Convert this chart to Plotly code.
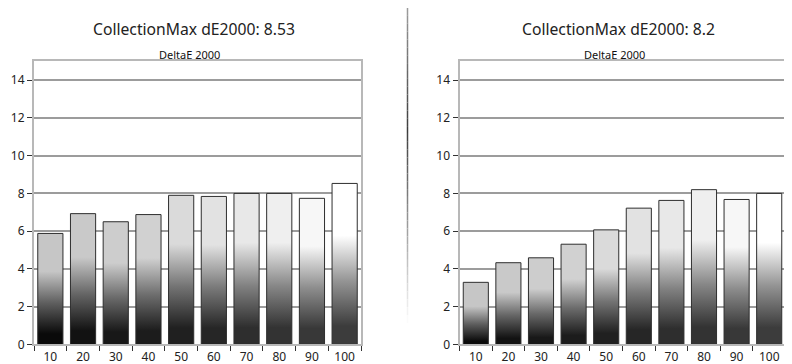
import plotly.graph_objects as go

# ---------------- data ----------------
categories = ["10", "20", "30", "40", "50", "60", "70", "80", "90", "100"]
left_values = [5.88, 6.93, 6.50, 6.88, 7.90, 7.84, 8.00, 8.00, 7.74, 8.53]
right_values = [3.29, 4.33, 4.59, 5.31, 6.07, 7.22, 7.63, 8.20, 7.68, 8.00]
left_title = "CollectionMax dE2000: 8.53"
right_title = "CollectionMax dE2000: 8.2"
subtitle = "DeltaE 2000"
y_ticks = [0, 2, 4, 6, 8, 10, 12, 14]

# ---------------- styles ----------------
top_grays = [198, 201, 205, 209, 218, 226, 232, 239, 247, 255]
bottom_grays = [10, 18, 24, 28, 32, 38, 46, 51, 56, 60]
BAR_W = 0.77
W, H = 792, 364
FONT = "Noto Sans"


def g(v):
    return f"rgb({v},{v},{v})"


fig = go.Figure()

panels = [
    (left_values, "x", "y"),
    (right_values, "x2", "y2"),
]
for vals, xa, ya in panels:
    for i, v in enumerate(vals):
        c = i + 1
        top = top_grays[i]
        bot = bottom_grays[i]
        mid = int(bot + (top - bot) * 0.45)
        fig.add_trace(go.Scatter(
            x=[c - BAR_W / 2, c - BAR_W / 2, c + BAR_W / 2, c + BAR_W / 2, c - BAR_W / 2],
            y=[0, v, v, 0, 0],
            xaxis=xa, yaxis=ya,
            mode="lines", fill="toself",
            line=dict(color="#2e2e2e", width=1),
            fillgradient=dict(
                type="vertical", start=0, stop=v,
                colorscale=[[0, g(bot)], [0.15, g(bot)], [0.42, g(mid)],
                            [0.70, g(top)], [1, g(top)]],
            ),
            showlegend=False, hoverinfo="skip",
        ))

ydom = [1 - 344 / H, 1 - 54.5 / H]
x_domains = [[26 / W, 353 / W], [451.5 / W, 777.5 / W]]


def xaxis_cfg(dom, anchor):
    return dict(
        domain=dom, anchor=anchor, range=[0.5, 10.5],
        tickmode="array", tickvals=list(range(1, 11)), ticktext=categories,
        ticks="", showgrid=False, zeroline=False,
        showline=True, linecolor="#b8b8b8", linewidth=2, mirror=True,
        minor=dict(tickmode="array", tickvals=[k + 0.5 for k in range(0, 11)],
                   ticks="outside", ticklen=5, tickcolor="#333", tickwidth=1,
                   showgrid=False),
        tickfont=dict(family=FONT, size=12, color="#222"),
        fixedrange=True,
    )


def yaxis_cfg(anchor):
    return dict(
        domain=ydom, anchor=anchor, range=[0, 15],
        tickmode="array", tickvals=y_ticks,
        ticks="outside", ticklen=5, tickcolor="#333", tickwidth=1,
        showgrid=True, gridcolor="#9c9c9c", gridwidth=1.5,
        zeroline=False,
        showline=True, linecolor="#b8b8b8", linewidth=2, mirror=True,
        tickfont=dict(family=FONT, size=12, color="#222"),
        fixedrange=True,
    )


annotations = []
for (title, tx, sx) in [(left_title, 186, 181), (right_title, 610.5, 606)]:
    annotations.append(dict(text=title, x=tx / W, y=1 - 21 / H, xref="paper", yref="paper",
                            xanchor="center", yanchor="middle", showarrow=False,
                            font=dict(family=FONT, size=15.7, color="#222")))
    annotations.append(dict(text=subtitle, x=sx / W, y=1 - 47.5 / H, xref="paper", yref="paper",
                            xanchor="center", yanchor="middle", showarrow=False,
                            font=dict(family=FONT, size=11, color="#111")))

# separator line with fading ends
shapes = []
n_seg = 40
y0p, y1p, peak = 0.0, 322.0, 125.0
for k in range(n_seg):
    a = y0p + (y1p - y0p) * k / n_seg
    b = y0p + (y1p - y0p) * (k + 1) / n_seg
    m = (a + b) / 2
    if m <= peak:
        f = 0.5 + 0.5 * (m / peak)
    else:
        f = 1 - (m - peak) / (y1p - peak)
    f = max(0.0, min(1.0, f))
    gv = int(255 - (255 - 60) * f)
    shapes.append(dict(type="line", xref="paper", yref="paper",
                       x0=399.5 / W, x1=399.5 / W, y0=1 - a / H, y1=1 - b / H,
                       line=dict(color=g(gv), width=1.5)))

fig.update_layout(
    width=W, height=H,
    margin=dict(l=0, r=0, t=0, b=0),
    paper_bgcolor="white", plot_bgcolor="white",
    xaxis=xaxis_cfg(x_domains[0], "y"),
    yaxis=yaxis_cfg("x"),
    xaxis2=xaxis_cfg(x_domains[1], "y2"),
    yaxis2=yaxis_cfg("x2"),
    annotations=annotations,
    shapes=shapes,
    showlegend=False,
)

fig.write_html("out.html")
